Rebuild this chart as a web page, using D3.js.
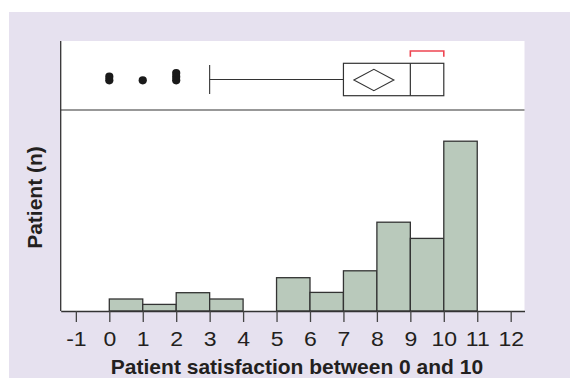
<!DOCTYPE html>
<html>
<head>
<meta charset="utf-8">
<script src="https://cdn.jsdelivr.net/npm/d3@7/dist/d3.min.js"></script>
<style>
  html, body { margin: 0; padding: 0; background: #ffffff; }
  svg { display: block; }
  text { font-family: "Liberation Sans", Arial, Helvetica, sans-serif; fill: #231f20; }
</style>
</head>
<body>
<svg id="chart" width="570" height="378"></svg>
<script>
// ---- data ----
const binStarts = [0, 1, 2, 3, 4, 5, 6, 7, 8, 9, 10];
const binCounts = [2, 1.1, 3.05, 2, 0, 5.55, 3.1, 6.7, 14.8, 12.1, 28.3];
const tickValues = [-1, 0, 1, 2, 3, 4, 5, 6, 7, 8, 9, 10, 11, 12];
const outliers = [0, 0, 1, 2, 2, 2];
const whiskerLow = 3;
const q1 = 7, median = 9, q3 = 10;
const meanValue = 7.91;
const shortestHalf = [9, 10];
const xTitle = "Patient satisfaction between 0 and 10";
const yTitle = "Patient (n)";

// ---- layout ----
const svg = d3.select("#chart");
const plotL = 60.7, plotR = 524.5, plotT = 41, sepY = 110, baseY = 311;

const x = d3.scaleLinear().domain([-1.453, 12.413]).range([plotL, plotR]);
const y = d3.scaleLinear().domain([0, 33.5]).range([baseY, sepY]);

// background
svg.append("rect").attr("x", 9).attr("y", 12).attr("width", 561).attr("height", 366).attr("fill", "#e6e1ef");
svg.append("rect").attr("x", plotL).attr("y", plotT).attr("width", plotR - plotL).attr("height", baseY - plotT).attr("fill", "#ffffff");

// histogram bars
svg.append("g").selectAll("rect").data(binStarts).join("rect")
  .attr("x", d => x(d))
  .attr("y", (d, i) => y(binCounts[i]))
  .attr("width", d => x(d + 1) - x(d))
  .attr("height", (d, i) => y(0) - y(binCounts[i]))
  .attr("fill", "#b9c9bb")
  .attr("stroke", "#333333")
  .attr("stroke-width", 1.3)
  .attr("display", (d, i) => binCounts[i] > 0 ? null : "none");

// separator line between box panel and histogram
svg.append("line").attr("x1", plotL).attr("x2", plotR).attr("y1", sepY).attr("y2", sepY)
  .attr("stroke", "#333333").attr("stroke-width", 1.2);

// left axis line
svg.append("line").attr("x1", plotL).attr("x2", plotL).attr("y1", plotT).attr("y2", baseY)
  .attr("stroke", "#333333").attr("stroke-width", 1.3);

// x axis
const xAxis = d3.axisBottom(x).tickValues(tickValues).tickSize(11).tickSizeOuter(0).tickPadding(10)
  .tickFormat(d => String(d));
const gx = svg.append("g").attr("transform", `translate(0,${baseY})`).call(xAxis);
gx.select(".domain").attr("stroke", "#333333").attr("stroke-width", 1.3);
gx.selectAll(".tick line").attr("stroke", "#444444").attr("stroke-width", 1.3);
gx.selectAll(".tick text").attr("font-size", "19.5px").attr("fill", "#231f20")
  .attr("font-family", "'Liberation Sans', Arial, sans-serif")
  .attr("transform", "scale(1.18,1)");

// ---- box plot panel ----
const boxMidY = 79.5, boxTop = 63.3, boxBot = 95.7;
const bp = svg.append("g");
// whisker
bp.append("line").attr("x1", x(whiskerLow)).attr("x2", x(q1)).attr("y1", boxMidY).attr("y2", boxMidY)
  .attr("stroke", "#333333").attr("stroke-width", 1.1);
bp.append("line").attr("x1", x(whiskerLow)).attr("x2", x(whiskerLow)).attr("y1", 65).attr("y2", 94)
  .attr("stroke", "#333333").attr("stroke-width", 1.1);
// box
bp.append("rect").attr("x", x(q1)).attr("y", boxTop).attr("width", x(q3) - x(q1)).attr("height", boxBot - boxTop)
  .attr("fill", "none").attr("stroke", "#333333").attr("stroke-width", 1.2);
bp.append("line").attr("x1", x(median)).attr("x2", x(median)).attr("y1", boxTop).attr("y2", boxBot)
  .attr("stroke", "#333333").attr("stroke-width", 1.2);
// mean diamond
const mx = x(meanValue), dw = 20, dh = 10.7;
bp.append("path")
  .attr("d", `M${mx - dw},${boxMidY + 0.5} L${mx},${boxMidY + 0.5 - dh} L${mx + dw},${boxMidY + 0.5} L${mx},${boxMidY + 0.5 + dh} Z`)
  .attr("fill", "none").attr("stroke", "#333333").attr("stroke-width", 1.1);
// outliers stacked
const seen = {};
bp.selectAll("circle").data(outliers).join("circle")
  .attr("cx", d => x(d))
  .attr("cy", d => { const k = seen[d] || 0; seen[d] = k + 1; return 80.3 - k * 3.6; })
  .attr("r", 4.1)
  .attr("fill", "#1a1a1a");
// shortest-half bracket
bp.append("path")
  .attr("d", `M${x(shortestHalf[0])},56.7 V51 H${x(shortestHalf[1])} V56.7`)
  .attr("fill", "none").attr("stroke", "#ee4551").attr("stroke-width", 1.6);

// ---- titles ----
svg.append("text").attr("x", 297).attr("y", 373.7).attr("text-anchor", "middle")
  .attr("font-size", "21px").attr("font-weight", "bold").text(xTitle);
svg.append("text").attr("transform", "translate(41.7,197.5) rotate(-90)").attr("text-anchor", "middle")
  .attr("font-size", "21px").attr("font-weight", "bold").text(yTitle);
</script>
</body>
</html>
